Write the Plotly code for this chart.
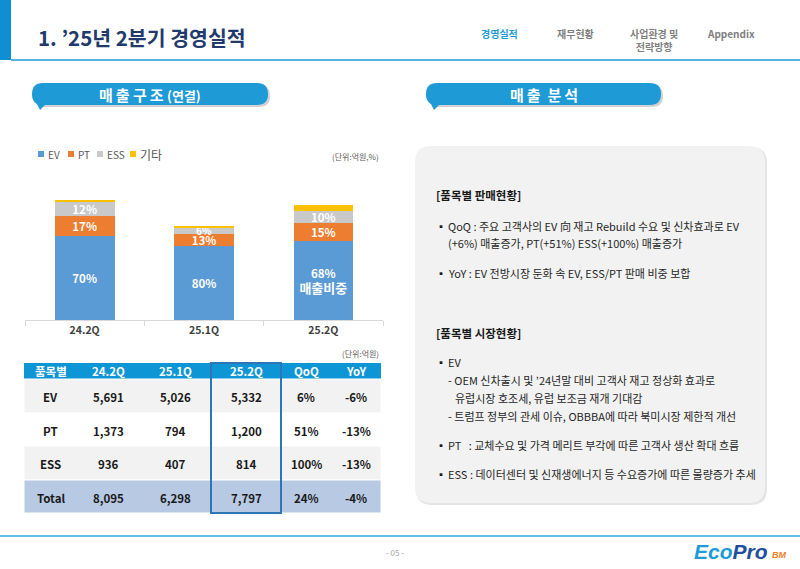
import plotly.graph_objects as go

W, H = 800, 569
FONT = "Noto Sans CJK KR, Noto Sans, DejaVu Sans, sans-serif"

# chart / table data
quarters = ["24.2Q", "25.1Q", "25.2Q"]
ev = [5691, 5026, 5332]
pt = [1373, 794, 1200]
ess = [936, 407, 814]
etc = [95, 71, 451]
total = [8095, 6298, 7797]
ev_share = [70, 80, 68]
pt_share = [17, 13, 15]
ess_share = [12, 6, 10]
qoq = [6, 51, 100, 24]
yoy = [-6, -13, -13, -4]
items = ["EV", "PT", "ESS", "Total"]
table_head = ["품목별", "24.2Q", "25.1Q", "25.2Q", "QoQ", "YoY"]

colors = {"EV": "#5B9BD5", "PT": "#ED7D31", "ESS": "#C9C9C9", "기타": "#FFC000"}


def X(p):
    return p / W


def Y(p):
    return 1 - p / H


def rrect(x0, y0, x1, y1, r):
    return (f"M {X(x0 + r)},{Y(y0)} L {X(x1 - r)},{Y(y0)} Q {X(x1)},{Y(y0)} {X(x1)},{Y(y0 + r)} "
            f"L {X(x1)},{Y(y1 - r)} Q {X(x1)},{Y(y1)} {X(x1 - r)},{Y(y1)} "
            f"L {X(x0 + r)},{Y(y1)} Q {X(x0)},{Y(y1)} {X(x0)},{Y(y1 - r)} "
            f"L {X(x0)},{Y(y0 + r)} Q {X(x0)},{Y(y0)} {X(x0 + r)},{Y(y0)} Z")


shapes = []
annotations = []


def box(x0, y0, x1, y1, fill, line=None, lw=0, layer="below"):
    shapes.append(dict(type="rect", xref="paper", yref="paper", x0=X(x0), x1=X(x1), y0=Y(y1), y1=Y(y0),
                       fillcolor=fill, line=dict(color=line or fill, width=lw), layer=layer))


def txt(x, y, s, size=10, color="#262626", bold=False, anchor="left", family=FONT):
    if bold:
        s = f"<b>{s}</b>"
    annotations.append(dict(x=X(x), y=Y(y), xref="paper", yref="paper", text=s, showarrow=False,
                            xanchor=anchor, yanchor="middle", font=dict(size=size, color=color, family=family)))


fig = go.Figure()

ev_text = [f"<b>{s}%</b>" for s in ev_share]
ev_text[-1] += "<br><span style='font-size:13px'><b>매출비중</b></span>"
series = [
    ("EV", ev, ev_text, 11.5),
    ("PT", pt, [f"<b>{s}%</b>" for s in pt_share], 11.5),
    ("ESS", ess, [f"<b>{s}%</b>" for s in ess_share], [11.5, 10, 11.5]),
    ("기타", etc, ["", "", ""], 11.5),
]
for name, vals, labels, fsize in series:
    fig.add_trace(go.Bar(
        x=quarters, y=vals, name=name, text=labels,
        marker=dict(color=colors[name], line=dict(width=0)),
        textposition="inside", insidetextanchor="middle", textangle=0,
        constraintext="none", cliponaxis=False,
        textfont=dict(color="white", size=fsize, family=FONT),
        hoverinfo="skip",
    ))

# header
box(0, 0, 11, 60, "#0E8FD3")
shapes.append(dict(type="line", xref="paper", yref="paper", x0=X(11), x1=1, y0=Y(60), y1=Y(60),
                   line=dict(color="#1E9BD7", width=1.5)))
txt(36, 37, "1. ’25년 2분기 경영실적", size=20.5, color="#1F3A6B", bold=True)
txt(499, 33, "경영실적", size=10, color="#1D9BD7", bold=True, anchor="center")
txt(575, 33, "재무현황", size=10, color="#7F7F7F", bold=True, anchor="center")
txt(654, 40, "사업환경 및<br>전략방향", size=10, color="#7F7F7F", bold=True, anchor="center")
txt(731, 33, "Appendix", size=10, color="#7F7F7F", bold=True, anchor="center")

# section pills
pills = [(32, 268, "매\u2009출 구\u2009조 <span style='font-size:13px'>(연결)</span>"),
         (426, 661, "매\u2009출  분\u2009석")]
for x0, x1, label in pills:
    shapes.append(dict(type="path", xref="paper", yref="paper", path=rrect(x0 + 2, 85, x1 + 2, 107, 11),
                       fillcolor="rgba(0,0,0,0.18)", line=dict(width=0), layer="below"))
    shapes.append(dict(type="path", xref="paper", yref="paper", path=rrect(x0, 83, x1, 105, 11),
                       fillcolor="#1E9AD6", line=dict(width=0), layer="below"))
    shapes.append(dict(type="path", xref="paper", yref="paper",
                       path=f"M {X(x0 + 4)},{Y(102)} L {X(x0 + 16)},{Y(102)} L {X(x0 + 8)},{Y(110)} Z",
                       fillcolor="#1E9AD6", line=dict(width=0), layer="below"))
    txt((x0 + x1) / 2, 94, label, size=15, color="white", bold=True, anchor="center")

# legend
lx = 38
for name, step in [("EV", 30), ("PT", 29), ("ESS", 33), ("기타", 0)]:
    box(lx, 151, lx + 6, 157, colors[name])
    txt(lx + 8, 154, name, size=12 if name == "기타" else 10, color="#595959")
    lx += step
txt(381, 156, "(단위:억원,%)", size=8, color="#595959", anchor="right")

# table
col_edges = [24, 77, 140, 211, 281, 331, 381]
row_edges = [363, 379, 413, 446, 480, 513]
row_fill = ["#F2F2F2", "#FFFFFF", "#F2F2F2", "#B7C9E3"]
box(24, 363, 381, 379, "#0D95D6")
for i, h in enumerate(table_head):
    cx = (col_edges[i] + col_edges[i + 1]) / 2
    txt(cx, 371, h, size=11.5, color="white", bold=True, anchor="center")
for r, item in enumerate(items):
    y0, y1 = row_edges[r + 1], row_edges[r + 2]
    box(24, y0, 381, y1, row_fill[r], line="white", lw=1)
    vals = [ev, pt, ess, total][r]
    cells = [item] + [f"{v:,}" for v in vals] + [f"{qoq[r]}%", f"{yoy[r]}%"]
    for i, c in enumerate(cells):
        cx = (col_edges[i] + col_edges[i + 1]) / 2
        txt(cx, (y0 + y1) / 2 + 1, c, size=11.5, color="#1A1A1A", bold=True, anchor="center")
shapes.append(dict(type="rect", xref="paper", yref="paper", x0=X(211), x1=X(281), y0=Y(513), y1=Y(363),
                   line=dict(color="#2E75B6", width=2), fillcolor="rgba(0,0,0,0)", layer="above"))
txt(381, 353, "(단위:억원)", size=8, color="#595959", anchor="right")

# right panel
shapes.append(dict(type="path", xref="paper", yref="paper", path=rrect(416, 147, 767, 505, 16),
                   fillcolor="#E4E4E4", line=dict(width=0), layer="below"))
shapes.append(dict(type="path", xref="paper", yref="paper", path=rrect(415, 146, 765, 503, 16),
                   fillcolor="#F2F2F2", line=dict(width=0), layer="below"))
TS = 11
txt(434, 195, "[품목별 판매현황]", size=11.5, color="#1A1A1A", bold=True)
bullets = [
    (226, "QoQ : 주요 고객사의 EV 向 재고 Rebuild 수요 및 신차효과로 EV"),
    (273, "YoY : EV 전방시장 둔화 속 EV, ESS/PT 판매 비중 보합"),
    (362, "EV"),
    (445, "PT   : 교체수요 및 가격 메리트 부각에 따른 고객사 생산 확대 흐름"),
    (474, "ESS : 데이터센터 및 신재생에너지 등 수요증가에 따른 물량증가 추세"),
]
for y, s in bullets:
    txt(434, y, "▪", size=10, color="#1A1A1A")
    txt(446, y, s, size=TS, color="#262626")
txt(446, 243, "(+6%) 매출증가, PT(+51%) ESS(+100%) 매출증가", size=TS, color="#262626")
txt(434, 333, "[품목별 시장현황]", size=11.5, color="#1A1A1A", bold=True)
txt(446, 380, "- OEM 신차출시 및 ’24년말 대비 고객사 재고 정상화 효과로", size=TS, color="#262626")
txt(453, 398, "유럽시장 호조세, 유럽 보조금 재개 기대감", size=TS, color="#262626")
txt(446, 416, "- 트럼프 정부의 관세 이슈, OBBBA에 따라 북미시장 제한적 개선", size=TS, color="#262626")

# footer
shapes.append(dict(type="line", xref="paper", yref="paper", x0=0, x1=1, y0=Y(536), y1=Y(536),
                   line=dict(color="#2AA8E0", width=1.5)))
txt(395, 552, "- 05 -", size=8, color="#A6A6A6", anchor="center")
txt(692, 551, "<i><b><span style='color:#1E9BD7'>Eco</span><span style='color:#1F4E9E'>Pro</span></b></i>",
    size=21, anchor="left", family="Liberation Sans, Arial, sans-serif")
txt(770, 555, "<i><b>BM</b></i>", size=9, color="#F07E26", anchor="left", family="Liberation Sans, Arial, sans-serif")

fig.update_layout(
    width=W, height=H, margin=dict(l=0, r=0, t=0, b=0),
    paper_bgcolor="white", plot_bgcolor="rgba(0,0,0,0)",
    barmode="stack", bargap=0.5, showlegend=False,
    xaxis=dict(domain=[X(25), X(383)], showline=True, linecolor="#D9D9D9", linewidth=1,
               ticks="outside", tickson="boundaries", ticklen=5, tickcolor="#D9D9D9",
               tickfont=dict(size=10.5, color="#404040", family=FONT, weight="bold"), showgrid=False, fixedrange=True),
    yaxis=dict(domain=[Y(320), Y(150)], range=[0, 11500], visible=False, showgrid=False, zeroline=False),
    shapes=shapes, annotations=annotations,
)

fig.write_html("out.html", config={"displayModeBar": False},
               post_script="document.body.style.margin='0';")
